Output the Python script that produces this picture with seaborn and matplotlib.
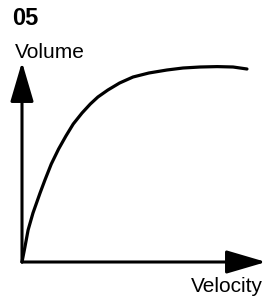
import matplotlib
matplotlib.use("Agg")
import matplotlib.pyplot as plt
import seaborn as sns
import pandas as pd

# Data (arbitrary units)
velocity = [0.0, 0.04, 0.12, 0.25, 0.45, 0.74, 0.94, 1.20, 1.50, 1.80, 2.10, 2.46, 2.80, 3.11, 3.52, 4.00, 4.55, 5.20, 5.94, 6.60, 7.30, 8.00, 8.65, 9.22]
volume   = [0.0, 0.25, 0.75, 1.60, 2.45, 3.45, 4.10, 4.90, 5.65, 6.30, 6.90, 7.45, 7.90, 8.25, 8.60, 8.95, 9.25, 9.45, 9.60, 9.70, 9.75, 9.77, 9.75, 9.65]
title_text = "05"
y_label = "Volume"
x_label = "Velocity"

sns.set_theme(style="white")
plt.rcParams["font.family"] = ["Liberation Sans", "DejaVu Sans"]

W, H = 267, 296
fig = plt.figure(figsize=(W / 100, H / 100), dpi=100)
ox, oy = 22, 262
tx, ty = 266, 62
ax = fig.add_axes([ox / W, (H - oy) / H, (tx - ox) / W, (oy - ty) / H])
ax.set_xlim(0, 10)
ax.set_ylim(0, 10)
ax.axis("off")

df = pd.DataFrame({"Velocity": velocity, "Volume": volume})
sns.lineplot(data=df, x="Velocity", y="Volume", ax=ax, color="black",
             linewidth=2.3, sort=False, clip_on=False)

arrow_style = "-|>,head_length=2.45,head_width=0.72"
for end in [(10, 0), (0, 10)]:
    ax.annotate("", xy=end, xytext=(0, 0), xycoords="data",
                arrowprops=dict(arrowstyle=arrow_style, color="black", lw=2.2,
                                shrinkA=0, shrinkB=0, mutation_scale=10),
                annotation_clip=False)

fig.text(12 / W, 1 - 7 / H, title_text, fontsize=17, fontweight="bold",
         ha="left", va="top", color="black")
fig.text(15 / W, 1 - 52 / H, y_label, fontsize=15, ha="left", va="center", color="black")
fig.text(263 / W, 1 - 287 / H, x_label, fontsize=15, ha="right", va="center", color="black")

fig.savefig("out.png", dpi=100)
